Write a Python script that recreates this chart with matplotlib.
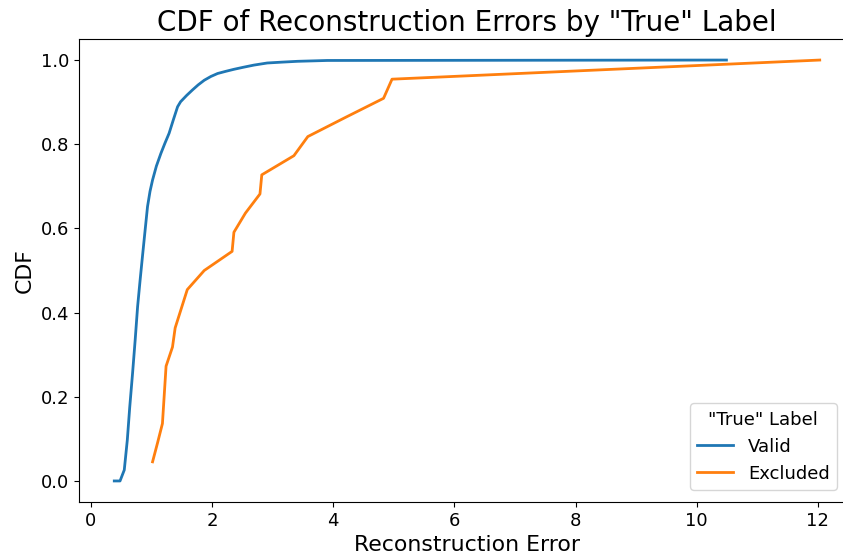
import matplotlib
matplotlib.use("Agg")
import matplotlib.pyplot as plt

# CDF of reconstruction error, valid samples
valid_err = [0.385, 0.48, 0.55, 0.60, 0.64, 0.687, 0.73, 0.77, 0.81, 0.85, 0.89,
             0.934, 0.975, 1.017, 1.08, 1.154, 1.22, 1.29, 1.36, 1.43, 1.48,
             1.58, 1.676, 1.77, 1.87, 1.98, 2.09, 2.22, 2.36, 2.52, 2.69,
             2.91, 3.15, 3.41, 3.9, 10.49]
valid_cdf = [0.0, 0.0, 0.026, 0.097, 0.175, 0.256, 0.335, 0.414, 0.475, 0.533, 0.59,
             0.652, 0.688, 0.715, 0.748, 0.778, 0.802, 0.826, 0.858, 0.889, 0.901,
             0.916, 0.929, 0.941, 0.952, 0.961, 0.968, 0.973, 0.978, 0.983, 0.988,
             0.993, 0.995, 0.997, 0.999, 1.0]

# CDF of reconstruction error, excluded samples (22 samples)
excl_err = [1.017, 1.10, 1.18, 1.20, 1.22, 1.24, 1.346, 1.39, 1.49, 1.59, 1.87,
            2.33, 2.36, 2.55, 2.79, 2.82, 3.35, 3.58, 4.2, 4.83, 4.97, 12.03]
excl_cdf = [(i + 1) / 22 for i in range(22)]

fig = plt.figure(figsize=(8.43, 5.58), dpi=100)
ax = fig.add_axes([79 / 843, 56 / 558, 776 / 843, 463 / 558])

ax.plot(valid_err, valid_cdf, label="Valid", color="tab:blue", linewidth=2)
ax.plot(excl_err, excl_cdf, label="Excluded", color="tab:orange", linewidth=2)

ax.set_title('CDF of Reconstruction Errors by "True" Label', fontsize=20)
ax.set_xlabel("Reconstruction Error", fontsize=15.8)
ax.set_ylabel("CDF", fontsize=15.8)
ax.tick_params(labelsize=13)
ax.set_xticks([0, 2, 4, 6, 8, 10, 12])
# the right edge of the axes falls past the figure border
ax.spines["right"].set_visible(False)

ax.legend(title='"True" Label', fontsize=13, title_fontsize=13,
          loc="lower right", bbox_to_anchor=(0.9765, 0.026), borderaxespad=0)

fig.savefig("out.png", dpi=100)
